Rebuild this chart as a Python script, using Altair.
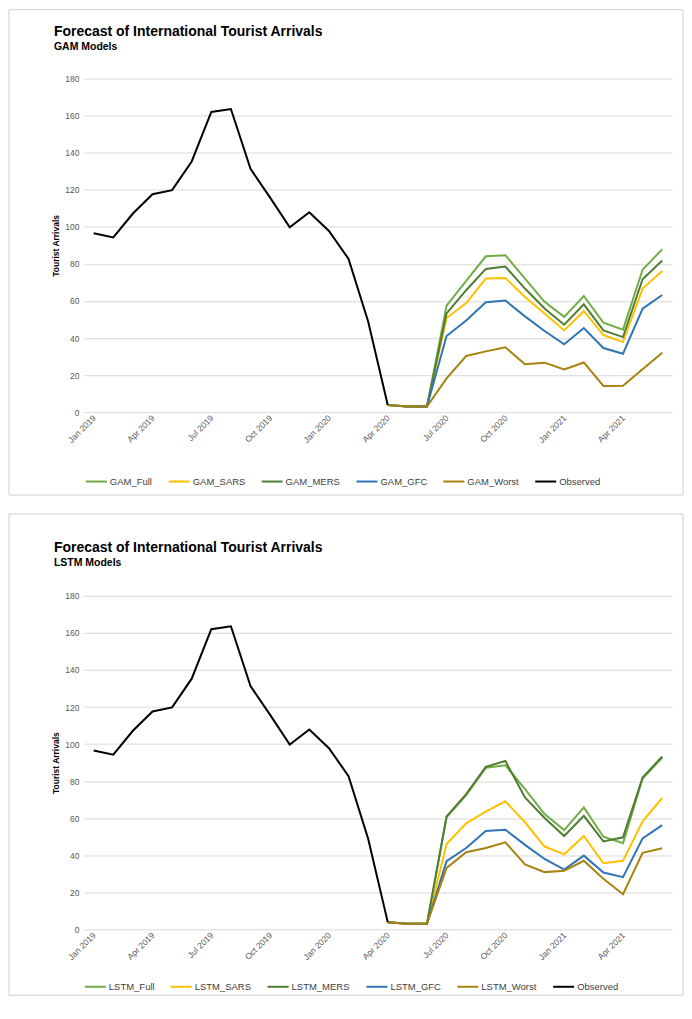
import altair as alt
import pandas as pd

months = ["Jan 2019", "Feb 2019", "Mar 2019", "Apr 2019", "May 2019", "Jun 2019",
          "Jul 2019", "Aug 2019", "Sep 2019", "Oct 2019", "Nov 2019", "Dec 2019",
          "Jan 2020", "Feb 2020", "Mar 2020", "Apr 2020", "May 2020", "Jun 2020",
          "Jul 2020", "Aug 2020", "Sep 2020", "Oct 2020", "Nov 2020", "Dec 2020",
          "Jan 2021", "Feb 2021", "Mar 2021", "Apr 2021", "May 2021", "Jun 2021"]
tick_labels = ["Jan 2019", "Apr 2019", "Jul 2019", "Oct 2019", "Jan 2020",
               "Apr 2020", "Jul 2020", "Oct 2020", "Jan 2021", "Apr 2021"]

# Observed: Jan 2019 .. Apr 2020
observed = [96.5, 94.3, 107.2, 117.6, 119.8, 135.3, 162.0, 163.6, 131.3, 115.8,
            99.8, 107.9, 97.8, 82.7, 48.9, 3.9]
# common start of every forecast: Apr, May, Jun 2020
bridge = [3.9, 3.0, 3.0]

# forecasts Jul 2020 .. Jun 2021
gam_full = [57.5, 70.8, 84.1, 84.7, 72.0, 59.5, 51.4, 62.7, 48.3, 44.5, 76.9, 87.9]
gam_sars = [50.8, 58.9, 72.1, 72.4, 62.2, 53.2, 44.1, 54.6, 41.6, 37.8, 66.7, 76.2]
gam_mers = [53.3, 65.8, 77.3, 78.6, 66.7, 55.9, 47.2, 58.2, 44.1, 40.5, 71.7, 81.8]
gam_gfc = [41.1, 49.5, 59.3, 60.2, 51.7, 43.8, 36.6, 45.4, 34.6, 31.5, 55.9, 63.2]
gam_worst = [18.2, 30.3, 32.8, 35.0, 25.8, 26.7, 23.1, 26.8, 14.1, 14.2, 23.1, 32.1]

lstm_full = [60.5, 72.5, 87.2, 88.6, 75.7, 62.2, 53.6, 65.8, 50.0, 46.5, 81.4, 92.7]
lstm_sars = [46.1, 57.2, 63.5, 69.1, 57.8, 44.7, 40.5, 50.4, 35.7, 37.0, 58.3, 70.9]
lstm_mers = [61.0, 73.0, 87.7, 90.9, 71.2, 60.1, 50.4, 61.3, 47.5, 49.7, 82.0, 93.3]
lstm_gfc = [36.8, 43.9, 53.1, 53.8, 45.6, 38.0, 32.3, 39.8, 30.7, 28.2, 49.1, 56.3]
lstm_worst = [33.2, 41.6, 43.9, 47.0, 35.0, 30.9, 31.6, 37.0, 27.3, 19.0, 41.3, 43.8]

suffixes = ["Full", "SARS", "MERS", "GFC", "Worst"]
colors = ["#70AD47", "#FFC000", "#507D31", "#2E75B6", "#A8820F", "#000000"]

FONT = "Liberation Sans"
W, H = 589, 334


def panel(prefix, forecasts, subtitle, frame_top, frame_bottom, title_y,
          legend_x, legend_y):
    names = [prefix + "_" + s for s in suffixes] + ["Observed"]
    rows = []
    for k, (name, vals) in enumerate(zip(names[:-1], forecasts)):
        seq = bridge + vals
        for i, v in enumerate(seq):
            rows.append({"month": months[15 + i], "idx": 15 + i,
                         "series": name, "value": v, "k": k})
    for i, v in enumerate(observed):
        rows.append({"month": months[i], "idx": i, "series": "Observed",
                     "value": v, "k": 5})
    df = pd.DataFrame(rows)

    one = pd.DataFrame({"a": [0]})
    frame = alt.Chart(one).mark_rect(
        fill="white", fillOpacity=0, stroke="#d0d0d0", strokeWidth=1
    ).encode(x=alt.value(-75), x2=alt.value(600),
             y=alt.value(frame_top), y2=alt.value(frame_bottom))

    title = alt.Chart(one).mark_text(
        text="Forecast of International Tourist Arrivals", align="left",
        baseline="alphabetic", font=FONT, fontSize=14, fontWeight="bold",
        color="#000000"
    ).encode(x=alt.value(-30), y=alt.value(title_y))
    sub = alt.Chart(one).mark_text(
        text=subtitle, align="left", baseline="alphabetic", font=FONT,
        fontSize=10.5, fontWeight="bold", color="#000000"
    ).encode(x=alt.value(-30), y=alt.value(title_y + 14))

    lines = alt.Chart(df).mark_line(strokeWidth=2).encode(
        x=alt.X("month:O", sort=months,
                scale=alt.Scale(type="point", padding=0.5),
                axis=alt.Axis(values=tick_labels, title=None, labelAngle=-45,
                              labelAlign="right", labelBaseline="middle",
                              labelPadding=4, ticks=False, domain=False,
                              grid=False, labelFontSize=8.5,
                              labelColor="#595959", labelFont=FONT)),
        y=alt.Y("value:Q", scale=alt.Scale(domain=[0, 180], nice=False),
                axis=alt.Axis(values=list(range(0, 181, 20)),
                              title="Tourist Arrivals", titleFontSize=8.5,
                              titleFontWeight="bold", titleColor="#000000",
                              titleFont=FONT, titlePadding=4,
                              labelFontSize=8.5, labelColor="#595959",
                              labelFont=FONT, labelPadding=5, ticks=False,
                              domain=False, grid=True, gridColor="#d9d9d9",
                              gridWidth=1)),
        color=alt.Color("series:N", sort=names,
                        scale=alt.Scale(domain=names, range=colors),
                        legend=alt.Legend(title=None, orient="none",
                                          direction="horizontal",
                                          legendX=legend_x, legendY=legend_y,
                                          symbolType="stroke", symbolSize=441,
                                          symbolStrokeWidth=2,
                                          labelFontSize=9.5, labelFont=FONT,
                                          labelColor="#404040", labelOffset=2,
                                          columnPadding=12)),
        detail="k:N",
        order="idx:Q",
    )
    return alt.layer(frame, title, sub, lines).properties(width=W, height=H)


top = panel("GAM", [gam_full, gam_sars, gam_mers, gam_gfc, gam_worst],
            "GAM Models", -69, 417, -43, 1, 392)
bottom = panel("LSTM", [lstm_full, lstm_sars, lstm_mers, lstm_gfc, lstm_worst],
               "LSTM Models", -82, 400, -44, 0, 380)

chart = alt.vconcat(top, bottom, spacing=17).resolve_scale(
    color="independent"
).properties(padding=0, background="white").configure_view(stroke=None)

chart.save("out.html", embed_options={"renderer": "svg", "actions": False})
